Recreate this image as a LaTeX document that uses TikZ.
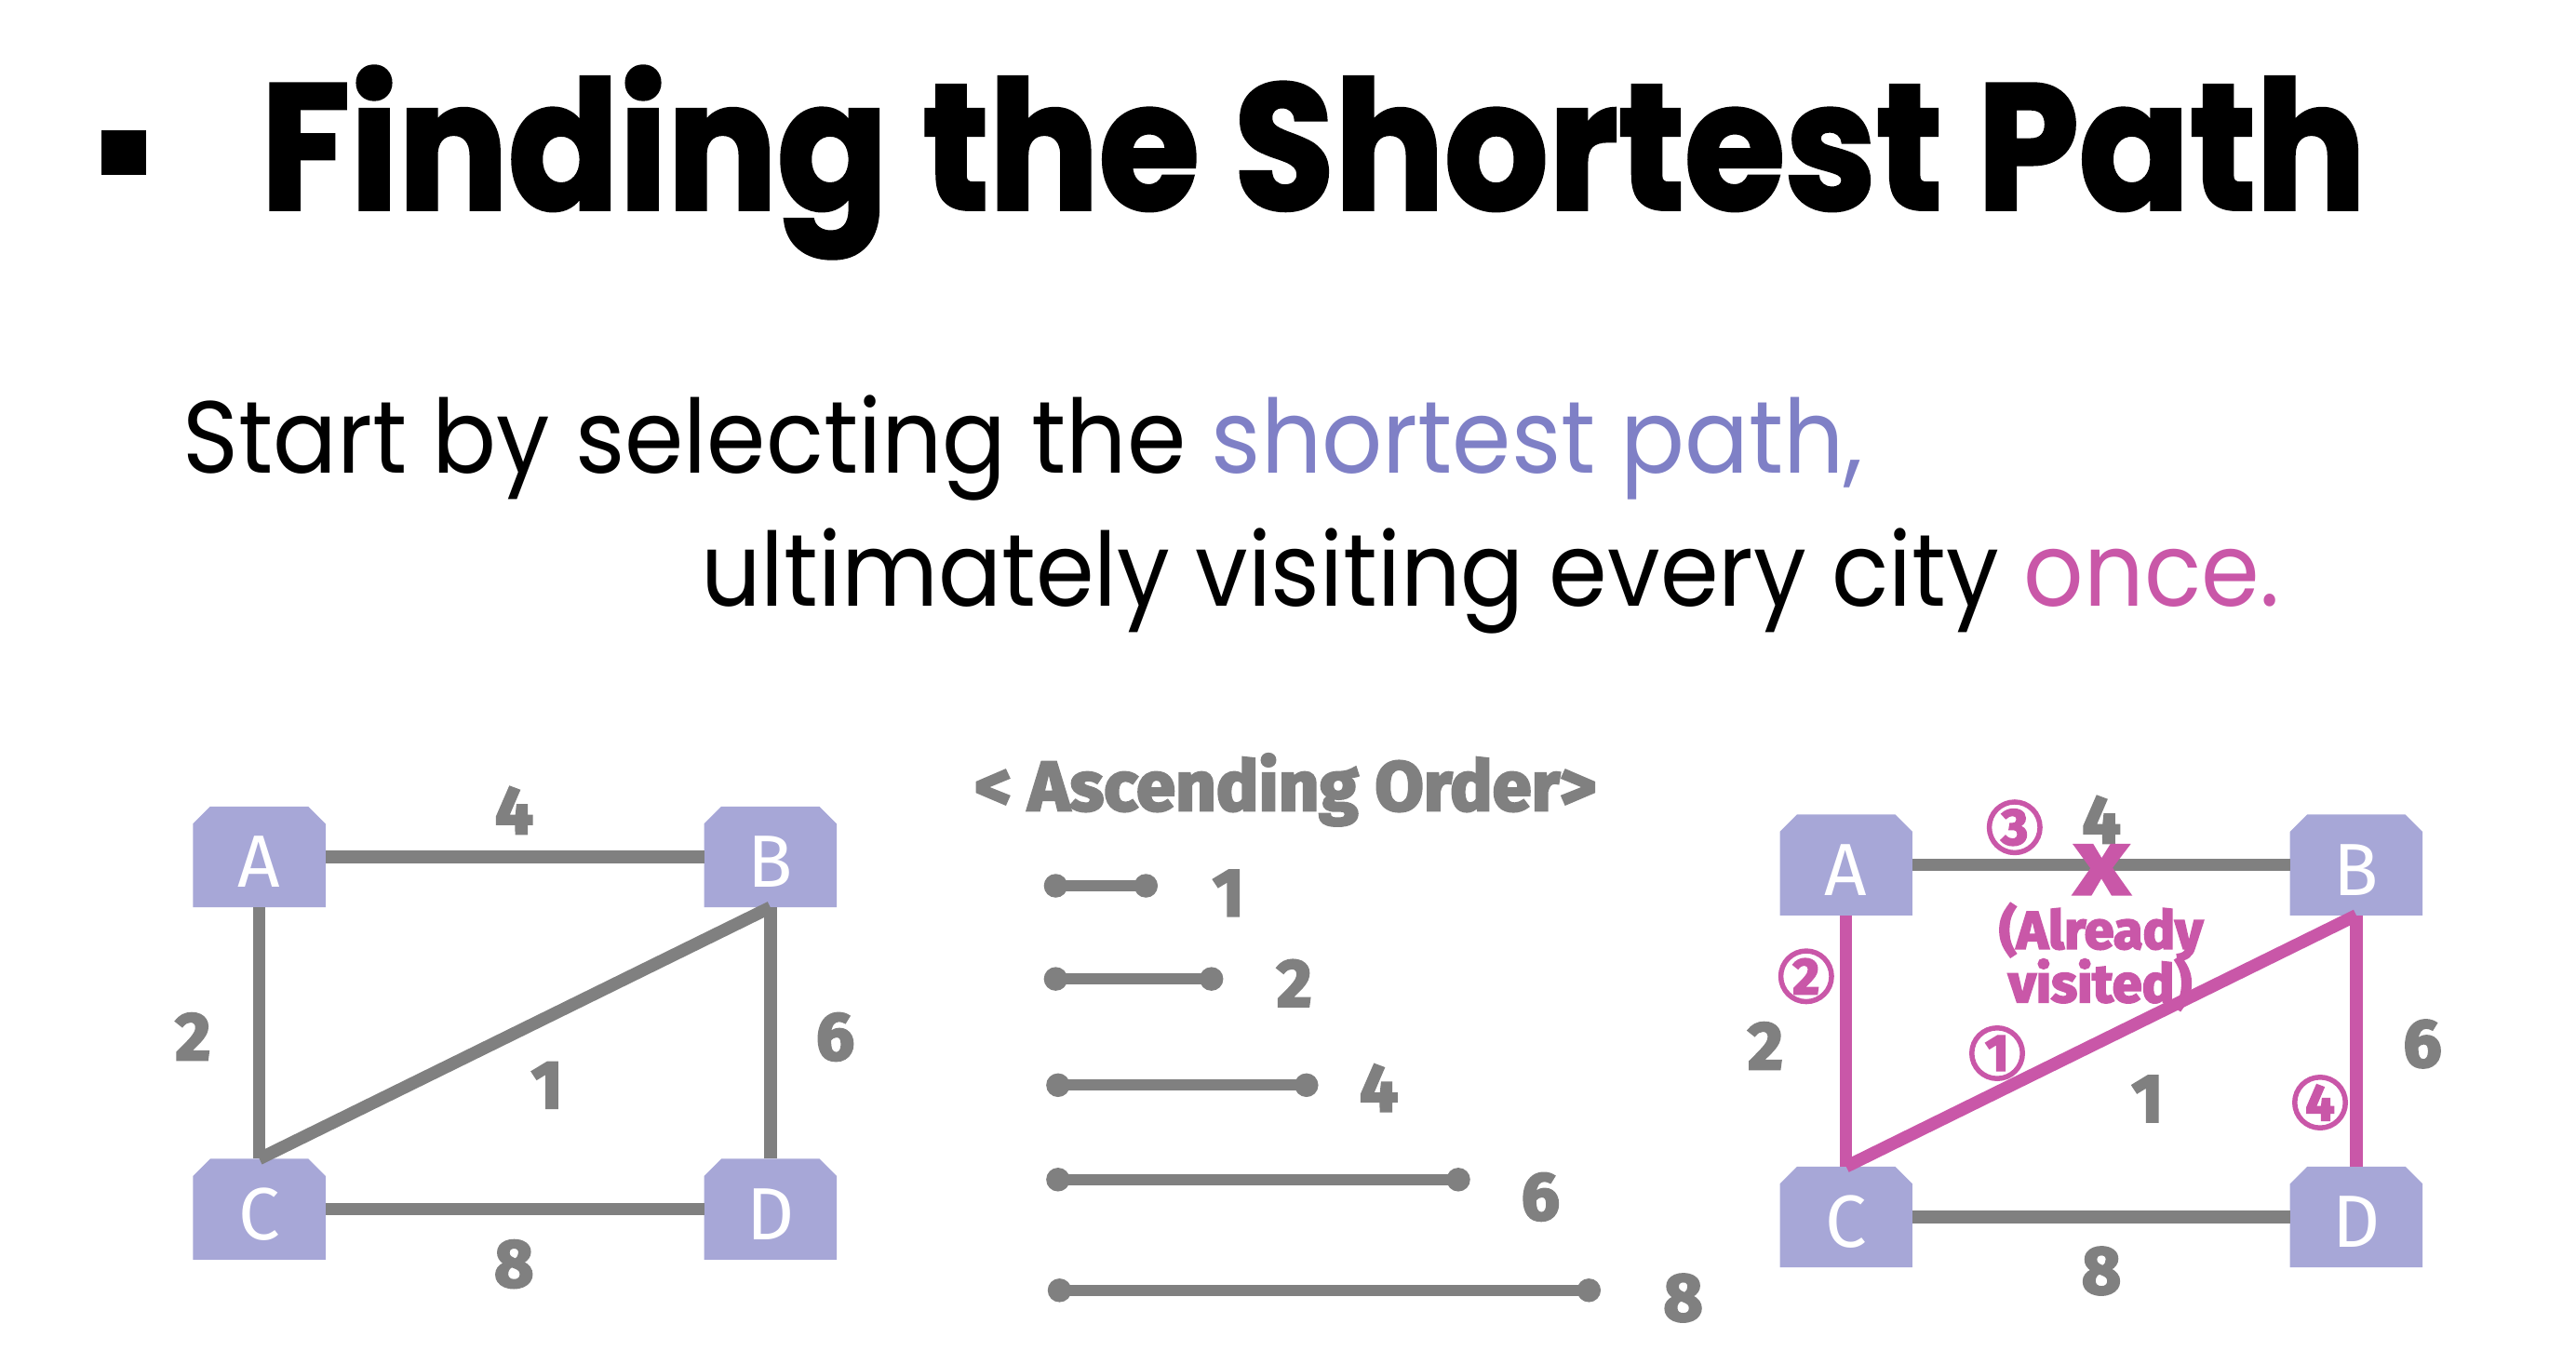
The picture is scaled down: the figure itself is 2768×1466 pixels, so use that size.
\documentclass[tikz,border=0pt]{standalone}
\usepackage{fontspec}
\usetikzlibrary{calc}
\setmainfont{Poppins}
\newfontfamily\bodyfont{Poppins}
\newfontfamily\titlefont{Poppins}[BoldFeatures={FakeBold=2}]
\newfontfamily\labfont{Fira Sans}[BoldFeatures={FakeBold=3.5}]
\newfontfamily\cityfont{Fira Sans}
\definecolor{lav}{HTML}{A7A7D7}
\definecolor{peri}{HTML}{7F80C6}
\definecolor{mag}{HTML}{C957A8}
\definecolor{edgegray}{HTML}{808080}
\pgfdeclarelayer{bg}
\pgfsetlayers{bg,main}
\newcommand\fitw[2]{\resizebox{#1}{\height}{#2}}
\newcommand\chbox[1]{\fill[lav] (#1.south west) -- ($(#1.north west)+(0,18.5)$) -- ($(#1.north west)+(18.5,0)$) -- ($(#1.north east)+(-18.5,0)$) -- ($(#1.north east)+(0,18.5)$) -- (#1.south east) -- cycle;}
\tikzset{
 city/.style={rectangle, minimum width=142pt, minimum height=108pt, inner sep=0pt, text=white, font=\cityfont\fontsize{79.5}{80}\selectfont, text height=64.8pt, text depth=0pt},
 edge/.style={draw=edgegray, line width=13.5pt},
 hot/.style={draw=mag, line width=13.5pt},
 wlab/.style={text=edgegray, font=\labfont\bfseries\fontsize{72.5}{73}\selectfont, inner sep=0pt},
 circnum/.style={circle, draw=mag, line width=5.5pt, minimum size=54.5pt, inner sep=0pt, text=mag, font=\labfont\bfseries\fontsize{55}{55}\selectfont},
 seg/.style={draw=edgegray, line width=12pt},
 dot/.style={circle, fill=edgegray, minimum size=25.5pt, inner sep=0pt},
 txt/.style={inner sep=0pt},
}
\begin{document}
\begin{tikzpicture}[x=1pt,y=-1pt]
\useasboundingbox (0,0) rectangle (2768,1466);
% title
\node[fill=black, minimum size=48.5pt, inner sep=0pt] (bullet) at (132.8,164) {};
\node[txt, anchor=base west, font=\titlefont\bfseries\fontsize{192}{192}\selectfont] (title) at (280,225) {\fitw{2262pt}{Finding the Shortest Path}};
\node[txt, anchor=base west, font=\bodyfont\fontsize{110}{110}\selectfont] (line1) at (196,508.5) {\fitw{1806pt}{Start by selecting the \textcolor{peri}{shortest path,}}};
\node[txt, anchor=base west, font=\bodyfont\fontsize{110}{110}\selectfont] (line2) at (753,651.8) {\fitw{1696pt}{ultimately visiting every city \textcolor{mag}{once.}}};
% left graph
\node[city] (A) at (278.6,921) {A};
\node[city] (B) at (827.8,921) {B};
\node[city] (C) at (278.6,1299.6) {C};
\node[city] (D) at (827.8,1299.6) {D};
\draw[edge] (A) -- (B);
\draw[edge] (A) -- (C);
\draw[edge] (B) -- (D);
\draw[edge] (C) -- (D);
\draw[edge] (B.south) -- (C.north);
\node[wlab] (lab4) at (552.5,871) {4};
\node[wlab] (lab2) at (207.4,1114) {2};
\node[wlab] (lab6) at (897.5,1114.5) {6};
\node[wlab] (lab1) at (587.8,1166.3) {1};
\node[wlab] (lab8) at (552.3,1358.6) {8};
% ascending order
\node[txt, anchor=base, text=edgegray, font=\labfont\bfseries\fontsize{75}{75}\selectfont] (asc) at (1381.3,871) {\fitw{668pt}{< Ascending Order>}};
\foreach \i/\xl/\xr/\y in {1/1134.4/1231.3/952, 2/1134.4/1301.7/1052.1, 3/1136.9/1403.8/1166.3, 4/1136.9/1567/1267.8, 5/1138.5/1707.3/1386.8}{
  \node[dot] (s\i l) at (\xl,\y) {};
  \node[dot] (s\i r) at (\xr,\y) {};
  \draw[seg] (s\i l.center) -- (s\i r.center);
}
\node[wlab] (o1) at (1320,959.8) {1};
\node[wlab] (o2) at (1390.7,1056.7) {2};
\node[wlab] (o4) at (1481.5,1169.3) {4};
\node[wlab] (o6) at (1655.3,1286.4) {6};
\node[wlab] (o8) at (1808.6,1395) {8};
% right graph
\node[city] (A2) at (1983.7,929.6) {A};
\node[city] (B2) at (2531.9,929.6) {B};
\node[city] (C2) at (1983.7,1308) {C};
\node[city] (D2) at (2531.9,1308) {D};
\draw[edge] (A2) -- (B2);
\draw[edge] (C2) -- (D2);
\draw[hot] (A2) -- (C2);
\draw[hot] (B2) -- (D2);
\draw[hot] (B2.south) -- (C2.north);
\node[wlab] (r4) at (2258,881) {4};
\node[wlab] (r2) at (1897,1124) {2};
\node[wlab] (r6) at (2603,1122) {6};
\node[wlab] (r1) at (2307.4,1181) {1};
\node[wlab] (r8) at (2258,1366) {8};
\node[txt, text=mag, font=\labfont\bfseries\fontsize{77}{77}\selectfont] (xmark) at (2258.4,934.8) {\resizebox{59pt}{53pt}{X}};
\node[txt, anchor=base, text=mag, font=\labfont\bfseries\fontsize{57}{57}\selectfont] (already) at (2257.6,1019.6) {\fitw{219pt}{(Already}};
\node[txt, anchor=base, text=mag, font=\labfont\bfseries\fontsize{57}{57}\selectfont] (visited) at (2256.6,1077) {\fitw{197pt}{visited)}};
\node[circnum] (c3) at (2164.8,889.2) {3};
\node[circnum] (c2) at (1940.8,1049.3) {2};
\node[circnum] (c1) at (2146,1132) {1};
\node[circnum] (c4) at (2493,1185) {4};
\begin{pgfonlayer}{bg}
\foreach \n in {A,B,C,D,A2,B2,C2,D2}{\chbox{\n}}
\end{pgfonlayer}
\end{tikzpicture}
\end{document}
